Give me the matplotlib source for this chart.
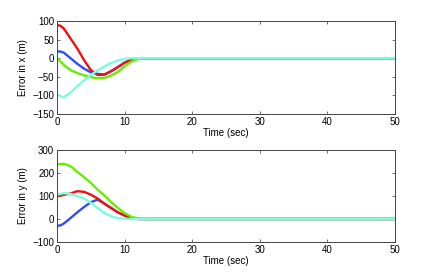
import numpy as np
import matplotlib.pyplot as plt

plt.rcParams['font.family'] = ['Liberation Sans', 'DejaVu Sans']

t = [0, 0.5, 1, 2, 3, 4, 5, 6, 7, 8, 9, 10, 11, 12, 13, 50]

# error in x
ex_blue = [18, 18, 15, 0, -15, -28, -38, -42, -44, -35, -24, -12, -4, -1, 0, 0]
ex_red = [90, 87, 80, 53, 26, -5, -32, -45, -44, -35, -24, -12, -4, -1, 0, 0]
ex_green = [0, -9, -18, -32, -40, -46, -51, -54, -53, -47, -37, -22, -9, -2, 0, 0]
ex_cyan = [-97, -102, -105, -92, -75, -60, -45, -33, -22, -13, -6, -2, 0, 0, 0, 0]

# error in y
ey_blue = [-29, -28, -20, 4, 29, 52, 73, 84, 67, 48, 29, 15, 4, 0, 0, 0]
ey_red = [99, 102, 105, 111, 121, 118, 106, 89, 67, 48, 29, 15, 4, 0, 0, 0]
ey_green = [237, 239, 240, 230, 205, 182, 157, 128, 102, 74, 48, 26, 10, 2, 0, 0]
ey_cyan = [105, 109, 112, 109, 99, 89, 70, 48, 26, 12, 4, 1, 0, 0, 0, 0]

colors = ['#2f4cf5', '#f01010', '#66ee00', '#77ffdd']

fig = plt.figure(figsize=(4.36, 2.73), dpi=100)
ax1 = fig.add_axes([57/436, 1 - 114/273, 338/436, 93/273])
ax2 = fig.add_axes([57/436, 1 - 242/273, 338/436, 92/273])

for ax, series, ylab, ylim, yt in [
        (ax1, [ex_blue, ex_red, ex_green, ex_cyan], 'Error in x (m)', (-150, 100), np.arange(-150, 101, 50)),
        (ax2, [ey_blue, ey_red, ey_green, ey_cyan], 'Error in y (m)', (-100, 300), np.arange(-100, 301, 100))]:
    for y, c in zip(series, colors):
        ax.plot(t, y, color=c, lw=1.7, solid_capstyle='round')
    ax.set_xlim(0, 50)
    ax.set_ylim(*ylim)
    ax.set_yticks(yt)
    ax.set_xticks(np.arange(0, 51, 10))
    ax.tick_params(direction='in', top=True, right=True, labelsize=7, length=2.5, width=0.5, pad=2, colors='#333333', labelcolor='black')
    for s in ax.spines.values():
        s.set_linewidth(0.7)
        s.set_color('#444444')
    ax.set_xlabel('Time (sec)', fontsize=7, labelpad=1)
    ax.set_ylabel(ylab, fontsize=7, labelpad=3)

fig.savefig('out.png', dpi=100)
